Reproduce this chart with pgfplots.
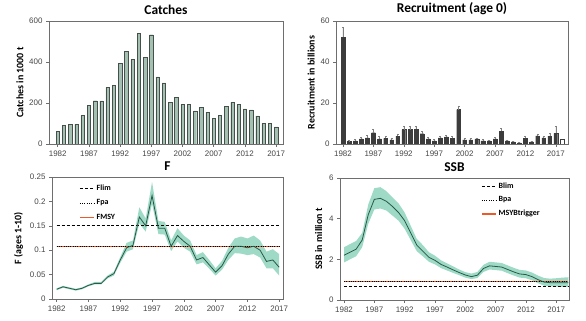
\documentclass[border=0pt]{standalone}
\usepackage{fontspec}
\setmainfont{Liberation Sans}
\newfontfamily\carl{Carlito}
\usepackage{pgfplots}
\usepackage{pgfplotstable}
\pgfplotsset{compat=1.18}

\definecolor{barfill}{RGB}{163,192,178}
\definecolor{baredge}{RGB}{70,80,75}
\definecolor{recfill}{RGB}{60,60,60}
\definecolor{bandcol}{RGB}{158,218,198}
\definecolor{linegreen}{RGB}{40,88,72}
\definecolor{orangeref}{RGB}{235,90,40}
\definecolor{framecol}{RGB}{110,110,110}
\definecolor{ticktext}{RGB}{70,70,70}

\pgfplotstableread{
year catch
1982 60
1983 91
1984 96
1985 96
1986 140
1987 187
1988 211
1989 210
1990 276
1991 286
1992 395
1993 452
1994 413
1995 540
1996 423
1997 533
1998 327
1999 298
2000 202
2001 228
2002 195
2003 193
2004 161
2005 180
2006 156
2007 125
2008 141
2009 184
2010 203
2011 193
2012 171
2013 166
2014 137
2015 101
2016 101
2017 83
}\catchtab

\pgfplotstableread{
year rec err
1982 52.0 5.0
1983 1.2 0.8
1984 1.5 0.8
1985 2.5 1.0
1986 3.0 1.2
1987 5.5 1.8
1988 2.5 1.2
1989 2.8 1.2
1990 2.0 1.0
1991 3.8 1.2
1992 7.0 1.5
1993 7.0 1.5
1994 7.2 1.5
1995 5.0 1.2
1996 2.5 1.0
1997 1.5 0.8
1998 3.0 1.0
1999 3.5 0.8
2000 2.8 0.8
2001 16.8 1.8
2002 2.0 0.8
2003 2.0 0.6
2004 2.5 0.5
2005 1.5 0.6
2006 1.5 0.5
2007 2.5 0.8
2008 6.3 1.3
2009 1.5 0.5
2010 1.0 0.4
2011 0.5 0.3
2012 2.8 1.0
2013 1.0 0.5
2014 4.0 1.0
2015 3.0 1.0
2016 3.8 1.3
2017 5.2 3.3
}\rectab

\pgfplotstableread{
year f
1982 0.020
1983 0.025
1984 0.022
1985 0.019
1986 0.022
1987 0.028
1988 0.032
1989 0.032
1990 0.045
1991 0.052
1992 0.080
1993 0.105
1994 0.110
1995 0.168
1996 0.150
1997 0.212
1998 0.145
1999 0.145
2000 0.108
2001 0.130
2002 0.118
2003 0.108
2004 0.080
2005 0.085
2006 0.070
2007 0.055
2008 0.068
2009 0.092
2010 0.108
2011 0.108
2012 0.105
2013 0.108
2014 0.100
2015 0.077
2016 0.080
2017 0.065
}\ftab

% F confidence band: lower bound forward, upper bound backward
\pgfplotstableread{
year band
1982 0.018
1983 0.023
1984 0.020
1985 0.017
1986 0.020
1987 0.026
1988 0.030
1989 0.030
1990 0.042
1991 0.048
1992 0.074
1993 0.097
1994 0.102
1995 0.155
1996 0.138
1997 0.195
1998 0.133
1999 0.132
2000 0.098
2001 0.118
2002 0.105
2003 0.097
2004 0.071
2005 0.075
2006 0.062
2007 0.048
2008 0.060
2009 0.080
2010 0.094
2011 0.093
2012 0.090
2013 0.092
2014 0.085
2015 0.063
2016 0.063
2017 0.048
2017 0.092
2016 0.102
2015 0.097
2014 0.120
2013 0.130
2012 0.124
2011 0.128
2010 0.124
2009 0.105
2008 0.078
2007 0.063
2006 0.080
2005 0.096
2004 0.090
2003 0.120
2002 0.130
2001 0.145
2000 0.120
1999 0.158
1998 0.160
1997 0.240
1996 0.165
1995 0.188
1994 0.120
1993 0.115
1992 0.086
1991 0.056
1990 0.048
1989 0.035
1988 0.035
1987 0.030
1986 0.024
1985 0.021
1984 0.024
1983 0.027
1982 0.022
}\fband

\pgfplotstableread{
year ssb
1982 2.20
1983 2.35
1984 2.50
1985 2.95
1986 4.20
1987 4.95
1988 5.00
1989 4.85
1990 4.60
1991 4.30
1992 3.90
1993 3.30
1994 2.70
1995 2.40
1996 2.10
1997 1.95
1998 1.75
1999 1.62
2000 1.48
2001 1.35
2002 1.23
2003 1.15
2004 1.22
2005 1.55
2006 1.68
2007 1.65
2008 1.62
2009 1.50
2010 1.38
2011 1.28
2012 1.25
2013 1.15
2014 1.00
2015 0.88
2016 0.85
2017 0.85
2018 0.85
2019 0.85
}\ssbtab

% SSB confidence band: lower bound forward, upper bound backward
\pgfplotstableread{
year band
1982 1.85
1983 2.00
1984 2.15
1985 2.60
1986 3.75
1987 4.45
1988 4.50
1989 4.40
1990 4.15
1991 3.90
1992 3.50
1993 2.95
1994 2.40
1995 2.15
1996 1.88
1997 1.75
1998 1.57
1999 1.45
2000 1.33
2001 1.22
2002 1.10
2003 1.03
2004 1.08
2005 1.38
2006 1.50
2007 1.47
2008 1.44
2009 1.32
2010 1.20
2011 1.10
2012 1.07
2013 0.97
2014 0.83
2015 0.70
2016 0.67
2017 0.66
2018 0.65
2019 0.64
2019 1.12
2018 1.10
2017 1.07
2016 1.05
2015 1.08
2014 1.20
2013 1.35
2012 1.45
2011 1.48
2010 1.58
2009 1.70
2008 1.82
2007 1.85
2006 1.88
2005 1.73
2004 1.38
2003 1.30
2002 1.37
2001 1.50
2000 1.65
1999 1.80
1998 1.95
1997 2.18
1996 2.35
1995 2.70
1994 3.00
1993 3.65
1992 4.30
1991 4.75
1990 5.05
1989 5.35
1988 5.55
1987 5.50
1986 4.70
1985 3.30
1984 2.90
1983 2.75
1982 2.60
}\sband

\pgfplotsset{
  panel/.style={
    scale only axis,
    axis line style={framecol, line width=0.6pt},
    tick style={framecol, line width=0.5pt},
    tick align=outside,
    major tick length=3pt,
    xtick pos=bottom, ytick pos=left,
    ticklabel style={font=\fontsize{8}{9}\selectfont, text=ticktext},
    /pgf/number format/assume math mode=true,
    xtick={1982,1987,...,2017},
    xticklabel style={/pgf/number format/1000 sep={}},
    title style={font=\carl\bfseries\fontsize{13.5}{14}\selectfont, yshift=-3pt},
    ylabel style={font=\carl\bfseries\fontsize{10}{11}\selectfont},
    legend style={draw=none, fill=none, font=\carl\bfseries\fontsize{8}{9}\selectfont,
      row sep=4pt, inner sep=0pt},
    legend cell align=left,
    legend image code/.code={\draw[##1] (0cm,0cm) -- (0.5cm,0cm);},
    limdash/.style={black, line width=1pt, dash pattern=on 3pt off 2pt},
    limdot/.style={black, line width=0.6pt, dash pattern=on 0.7pt off 1.6pt},
    limmsy/.style={orangeref, line width=1.3pt},
  }
}

\begin{document}
\begin{tikzpicture}
\path[use as bounding box] (0,0) rectangle (586bp,321bp);

% Catches
\begin{axis}[panel,
  at={(49bp,177bp)}, anchor=south west,
  width=234bp, height=123bp,
  xmin=1980.6, xmax=2018.1, ymin=0, ymax=600,
  ytick={0,200,400,600},
  title={Catches}, ylabel={Catches in 1000 t},
  ylabel style={yshift=-1pt}]
\addplot[ybar, bar width=0.55, fill=barfill, draw=baredge, line width=0.4pt]
  table[x=year, y=catch]{\catchtab};
\end{axis}

% Recruitment
\begin{axis}[panel,
  at={(336bp,177bp)}, anchor=south west,
  width=232bp, height=123bp,
  xmin=1980.85, xmax=2019, ymin=0, ymax=60,
  ytick={0,20,40,60},
  title={Recruitment (age 0)}, ylabel={Recruitment in billions},
  ylabel style={yshift=-1pt}]
\addplot[ybar, bar width=0.62, fill=recfill, draw=recfill, line width=0.3pt,
  error bars/.cd, y dir=plus, y explicit,
  error bar style={gray, line width=0.5pt}, error mark options={rotate=90, mark size=1pt, gray}]
  table[x=year, y=rec, y error=err]{\rectab};
\addplot[ybar, bar width=0.62, fill=white, draw=recfill, line width=0.5pt]
  coordinates {(2018,2.5)};
\end{axis}

% F
\begin{axis}[panel,
  at={(52bp,22bp)}, anchor=south west,
  width=231bp, height=122bp,
  xmin=1981.26, xmax=2017.6, ymin=0, ymax=0.25,
  ytick={0,0.05,0.1,0.15,0.2,0.25},
  yticklabels={0,0.05,0.1,0.15,0.2,0.25},
  title={F}, ylabel={F (ages 1-10)},
  legend style={at={(0.117,0.955)}, anchor=north west}]
\addplot[fill=bandcol, draw=none, forget plot] table[x=year, y=band]{\fband};
\addplot[limdash] coordinates {(1982,0.15) (2017,0.15)};
\addlegendentry{Flim}
\addplot[limdot] coordinates {(1982,0.107) (2017,0.107)};
\addlegendentry{Fpa}
\addplot[limmsy] coordinates {(1982,0.107) (2017,0.107)};
\addlegendentry{FMSY}
\addplot[limdot, forget plot] coordinates {(1982,0.107) (2017,0.107)};
\addplot[linegreen, line width=0.8pt, forget plot] table[x=year, y=f]{\ftab};
\end{axis}

% SSB
\begin{axis}[panel,
  at={(340bp,21bp)}, anchor=south west,
  width=229bp, height=122bp,
  xmin=1981.34, xmax=2019.1, ymin=0, ymax=6,
  ytick={0,2,4,6},
  title={SSB}, ylabel={SSB in million t},
  legend style={at={(0.616,0.98)}, anchor=north west, row sep=3pt}]
\addplot[fill=bandcol, draw=none, forget plot] table[x=year, y=band]{\sband};
\addplot[limdash] coordinates {(1982,0.64) (2019,0.64)};
\addlegendentry{Blim}
\addplot[limdot] coordinates {(1982,0.9) (2019,0.9)};
\addlegendentry{Bpa}
\addplot[limmsy] coordinates {(1982,0.9) (2019,0.9)};
\addlegendentry{MSYBtrigger}
\addplot[limdot, forget plot] coordinates {(1982,0.9) (2019,0.9)};
\addplot[linegreen, line width=0.8pt, forget plot] table[x=year, y=ssb]{\ssbtab};
\end{axis}
\end{tikzpicture}
\end{document}
